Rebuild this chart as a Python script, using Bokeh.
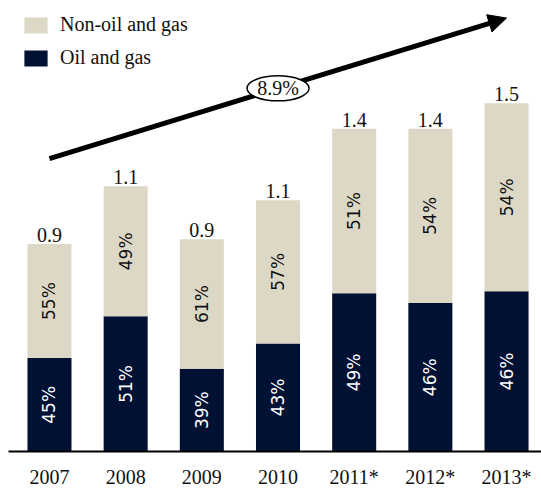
from bokeh.plotting import figure
from bokeh.models import (ColumnDataSource, Range1d, FixedTicker, Arrow, NormalHead,
                          Legend, LegendItem)
from bokeh.core.properties import value
from bokeh.embed import file_html
from bokeh.resources import INLINE
import math

# ---- data ----
years = ["2007", "2008", "2009", "2010", "2011*", "2012*", "2013*"]
totals = [0.90, 1.15, 0.92, 1.09, 1.40, 1.40, 1.51]
total_labels = ["0.9", "1.1", "0.9", "1.1", "1.4", "1.4", "1.5"]
oil_pct = [45, 51, 39, 43, 49, 46, 46]
nonoil_pct = [55, 49, 61, 57, 51, 54, 54]
cagr_label = "8.9%"
trend_y = [1.27, 1.88]  # trend arrow level at first and last category

# ---- styling ----
NAVY = "#011133"
BEIGE = "#DDD8C6"
SERIF = "Liberation Serif"
SANS = "DejaVu Sans"

idx = list(range(len(years)))
oil = [t * p / 100 for t, p in zip(totals, oil_pct)]
nonoil = [t * p / 100 for t, p in zip(totals, nonoil_pct)]

src = ColumnDataSource(dict(
    x=idx, oil=oil, nonoil=nonoil, total=totals, total_label=total_labels,
    oil_mid=[o / 2 for o in oil],
    non_mid=[o + n / 2 for o, n in zip(oil, nonoil)],
    oil_txt=[f"{p}%" for p in oil_pct],
    non_txt=[f"{p}%" for p in nonoil_pct],
))

p = figure(width=541, height=490, output_backend="svg", toolbar_location=None,
           x_range=Range1d(-0.538, 6.459), y_range=Range1d(0, 1.956),
           min_border_left=8, min_border_right=0, min_border_top=0,
           min_border_bottom=0)
p.outline_line_color = None
p.grid.visible = False
p.yaxis.visible = False
p.background_fill_color = "white"
p.border_fill_color = "white"

rs = p.vbar_stack(["oil", "nonoil"], x="x", width=0.578, source=src,
                  color=[NAVY, BEIGE], line_color=None)

# percentages inside bars
p.text(x="x", y="oil_mid", text="oil_txt", source=src, angle=math.pi / 2,
       text_align="center", text_baseline="middle", text_color="white",
       text_font=value(SANS), text_font_size="17px")
p.text(x="x", y="non_mid", text="non_txt", source=src, angle=math.pi / 2,
       text_align="center", text_baseline="middle", text_color="#111111",
       text_font=value(SANS), text_font_size="17px")

# totals above bars
p.text(x="x", y="total", text="total_label", source=src, y_offset=-9,
       text_align="center", text_baseline="alphabetic", text_color="#111111",
       text_font=value(SERIF), text_font_size="20px")

# trend arrow with CAGR bubble
x0, x1 = idx[0], idx[-1]
arrow = Arrow(x_start=x0, y_start=trend_y[0], x_end=x1, y_end=trend_y[1],
              line_width=5, line_color="black",
              end=NormalHead(size=18, fill_color="black", line_color="black"))
arrow.level = "underlay"
p.add_layout(arrow)
mx = (x0 + x1) / 2
my = (trend_y[0] + trend_y[1]) / 2
p.ellipse(x=[mx], y=[my], width=62, height=25, width_units="screen",
          height_units="screen", fill_color="white", line_color="black",
          line_width=1.5)
p.text(x=[mx], y=[my], text=[cagr_label], text_align="center",
       text_baseline="middle", text_font=value(SERIF), text_font_size="20px",
       text_color="#111111")

# category axis
ax = p.xaxis[0]
ax.ticker = FixedTicker(ticks=idx)
ax.major_label_overrides = {i: y for i, y in zip(idx, years)}
ax.major_tick_line_color = None
ax.minor_tick_line_color = None
ax.major_tick_out = 0
ax.major_tick_in = 0
ax.minor_tick_out = 0
ax.minor_tick_in = 0
ax.axis_line_color = "black"
ax.axis_line_width = 2
ax.major_label_text_font = SERIF
ax.major_label_text_font_size = "20px"
ax.major_label_text_color = "#111111"
ax.major_label_standoff = 14

# legend
legend = Legend(items=[LegendItem(label="Non-oil and gas", renderers=[rs[1]]),
                       LegendItem(label="Oil and gas", renderers=[rs[0]])],
                location="top_left", margin=13, padding=0, spacing=10,
                glyph_width=29, glyph_height=20, label_height=20,
                label_standoff=10, label_text_font=SERIF,
                label_text_font_size="20px", label_text_color="#111111",
                border_line_color=None, background_fill_alpha=0)
p.add_layout(legend)

open("out.html", "w").write(file_html(p, INLINE))
